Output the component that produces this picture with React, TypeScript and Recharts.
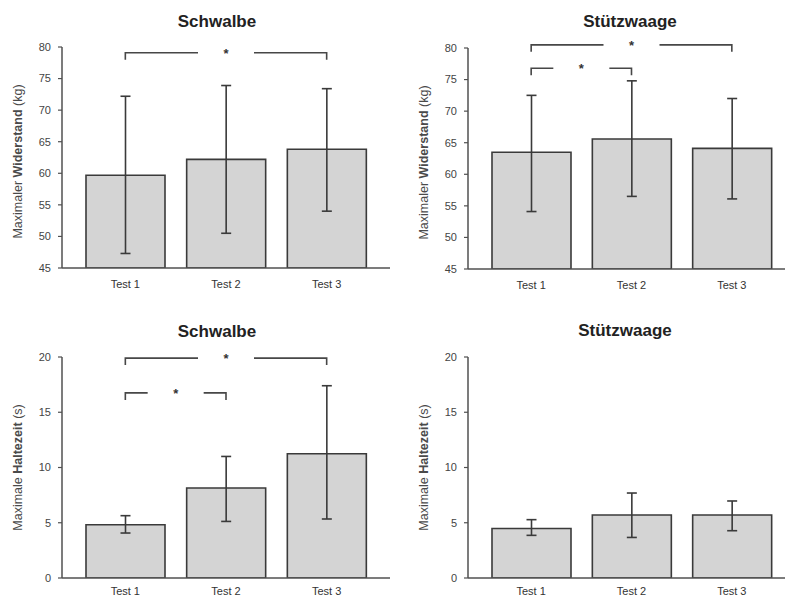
import React from 'react';
import { BarChart, Bar, XAxis, YAxis, ErrorBar, ReferenceLine } from 'recharts';

const categories = ['Test 1', 'Test 2', 'Test 3'];

// Maximaler Widerstand (kg)
const schwalbeKgMean = [59.7, 62.2, 63.8];
const schwalbeKgErrLow = [12.4, 11.7, 9.8];
const schwalbeKgErrHigh = [12.5, 11.7, 9.6];

const stuetzKgMean = [63.5, 65.6, 64.1];
const stuetzKgErrLow = [9.4, 9.1, 8.0];
const stuetzKgErrHigh = [9.0, 9.2, 7.9];

// Maximale Haltezeit (s)
const schwalbeSecMean = [4.82, 8.14, 11.25];
const schwalbeSecErrLow = [0.75, 3.02, 5.91];
const schwalbeSecErrHigh = [0.82, 2.86, 6.15];

const stuetzSecMean = [4.48, 5.7, 5.7];
const stuetzSecErrLow = [0.62, 2.03, 1.42];
const stuetzSecErrHigh = [0.8, 1.99, 1.27];

const kgTicks = [45, 50, 55, 60, 65, 70, 75, 80];
const secTicks = [0, 5, 10, 15, 20];

// significance brackets (*)
const schwalbeKgBrackets = [{ from: 'Test 1', to: 'Test 3', y: 79.1 }];
const stuetzKgBrackets = [
  { from: 'Test 1', to: 'Test 3', y: 80.5 },
  { from: 'Test 1', to: 'Test 2', y: 76.8 },
];
const schwalbeSecBrackets = [
  { from: 'Test 1', to: 'Test 3', y: 19.9 },
  { from: 'Test 1', to: 'Test 2', y: 16.75 },
];
const stuetzSecBrackets: { from: string; to: string; y: number }[] = [];

const FONT = '"Liberation Sans", Arial, Helvetica, sans-serif';
const DARK = '#3a3a3a';
const AXIS = '#505050';

function renderBracket(props: any) {
  const vb = props.viewBox || {};
  const x = vb.x;
  const y = vb.y;
  const w = vb.width;
  const cx = x + w / 2;
  const gap = 28;
  const leg = 7;
  return (
    <g>
      <path
        d={`M${x},${y + leg}V${y}H${cx - gap}M${cx + gap},${y}H${x + w}V${y + leg}`}
        fill="none"
        stroke="#474747"
        strokeWidth={1.6}
      />
      <text x={cx} y={y + 5} textAnchor="middle" fontSize={13} fontWeight="bold" fill="#333" fontFamily={FONT}>
        *
      </text>
    </g>
  );
}

function makeYLabel(main: string, bold: string, unit: string, dy: number) {
  return (props: any) => {
    const vb = props.viewBox || {};
    const cx = vb.x + vb.width - 44;
    const cy = vb.y + vb.height / 2 + dy;
    return (
      <text
        x={cx}
        y={cy}
        transform={`rotate(-90, ${cx}, ${cy})`}
        textAnchor="middle"
        dominantBaseline="central"
        fontSize={12.5}
        fill="#4a4a4a"
        fontFamily={FONT}
      >
        <tspan>{main} </tspan>
        <tspan fontWeight="bold">{bold}</tspan>
        <tspan> {unit}</tspan>
      </text>
    );
  };
}

type PanelProps = {
  left: number;
  top: number;
  width: number;
  height: number;
  margin: { top: number; right: number; bottom: number; left: number };
  yAxisWidth: number;
  xPadding: { left: number; right: number };
  xTickMargin: number;
  domain: [number, number];
  ticks: number[];
  mean: number[];
  errLow: number[];
  errHigh: number[];
  brackets: { from: string; to: string; y: number }[];
  labelMain: string;
  labelBold: string;
  labelUnit: string;
  labelDy: number;
};

function Panel(p: PanelProps) {
  const data = categories.map((c, i) => ({
    name: c,
    mean: p.mean[i],
    err: [p.errLow[i], p.errHigh[i]],
  }));
  return (
    <div style={{ position: 'absolute', left: p.left, top: p.top }}>
      <BarChart width={p.width} height={p.height} data={data} margin={p.margin} barSize={79}>
        <XAxis
          dataKey="name"
          height={20}
          padding={p.xPadding}
          tickLine={false}
          tickSize={6}
          tickMargin={p.xTickMargin}
          axisLine={{ stroke: AXIS, strokeWidth: 1.5 }}
          tick={{ fontSize: 11, fill: '#333', fontFamily: FONT }}
          interval={0}
        />
        <YAxis
          width={p.yAxisWidth}
          domain={p.domain}
          ticks={p.ticks}
          allowDataOverflow
          tickSize={4}
          tickMargin={7}
          axisLine={{ stroke: AXIS, strokeWidth: 1.5 }}
          tickLine={{ stroke: AXIS, strokeWidth: 1.2 }}
          tick={{ fontSize: 11, fill: '#444', fontFamily: FONT }}
          label={{ content: makeYLabel(p.labelMain, p.labelBold, p.labelUnit, p.labelDy) }}
        />
        <Bar dataKey="mean" fill="#d4d4d4" stroke={DARK} strokeWidth={1.6} isAnimationActive={false}>
          <ErrorBar dataKey="err" width={5} stroke={DARK} strokeWidth={1.6} direction="y" isAnimationActive={false} />
        </Bar>
        {p.brackets.map((b, i) => (
          <ReferenceLine
            key={i}
            segment={[
              { x: b.from, y: b.y },
              { x: b.to, y: b.y },
            ]}
            stroke="none"
            strokeWidth={0}
            ifOverflow="visible"
            label={renderBracket}
          />
        ))}
      </BarChart>
    </div>
  );
}

const titles = [
  { text: 'Schwalbe', x: 217, y: 27 },
  { text: 'Stützwaage', x: 630, y: 27 },
  { text: 'Schwalbe', x: 217, y: 337 },
  { text: 'Stützwaage', x: 625, y: 336 },
];

export default function App() {
  return (
    <div style={{ position: 'absolute', left: 0, top: 0, width: 790, height: 598, background: '#fff', overflow: 'hidden' }}>
      <Panel
        left={0}
        top={0}
        width={395}
        height={300}
        margin={{ top: 47, right: 5, bottom: 12, left: 0 }}
        yAxisWidth={62}
        xPadding={{ left: 13, right: 13 }}
        xTickMargin={6}
        domain={[45, 80]}
        ticks={kgTicks}
        mean={schwalbeKgMean}
        errLow={schwalbeKgErrLow}
        errHigh={schwalbeKgErrHigh}
        brackets={schwalbeKgBrackets}
        labelMain="Maximaler"
        labelBold="Widerstand"
        labelUnit="(kg)"
        labelDy={4}
      />
      <Panel
        left={395}
        top={0}
        width={395}
        height={300}
        margin={{ top: 48, right: 5, bottom: 11, left: 0 }}
        yAxisWidth={73}
        xPadding={{ left: 13, right: 3 }}
        xTickMargin={6}
        domain={[45, 80]}
        ticks={kgTicks}
        mean={stuetzKgMean}
        errLow={stuetzKgErrLow}
        errHigh={stuetzKgErrHigh}
        brackets={stuetzKgBrackets}
        labelMain="Maximaler"
        labelBold="Widerstand"
        labelUnit="(kg)"
        labelDy={4}
      />
      <Panel
        left={0}
        top={300}
        width={395}
        height={298}
        margin={{ top: 57, right: 5, bottom: 0, left: 0 }}
        yAxisWidth={62}
        xPadding={{ left: 13, right: 13 }}
        xTickMargin={3}
        domain={[0, 20]}
        ticks={secTicks}
        mean={schwalbeSecMean}
        errLow={schwalbeSecErrLow}
        errHigh={schwalbeSecErrHigh}
        brackets={schwalbeSecBrackets}
        labelMain="Maximale"
        labelBold="Haltezeit"
        labelUnit="(s)"
        labelDy={0}
      />
      <Panel
        left={395}
        top={300}
        width={395}
        height={298}
        margin={{ top: 57, right: 5, bottom: 0, left: 0 }}
        yAxisWidth={73}
        xPadding={{ left: 13, right: 3 }}
        xTickMargin={3}
        domain={[0, 20]}
        ticks={secTicks}
        mean={stuetzSecMean}
        errLow={stuetzSecErrLow}
        errHigh={stuetzSecErrHigh}
        brackets={stuetzSecBrackets}
        labelMain="Maximale"
        labelBold="Haltezeit"
        labelUnit="(s)"
        labelDy={0}
      />
      <svg width={790} height={598} style={{ position: 'absolute', left: 0, top: 0, pointerEvents: 'none' }}>
        {titles.map((t, i) => (
          <text key={i} x={t.x} y={t.y} textAnchor="middle" fontSize={17} fontWeight="bold" fill="#222" fontFamily={FONT}>
            {t.text}
          </text>
        ))}
      </svg>
    </div>
  );
}
